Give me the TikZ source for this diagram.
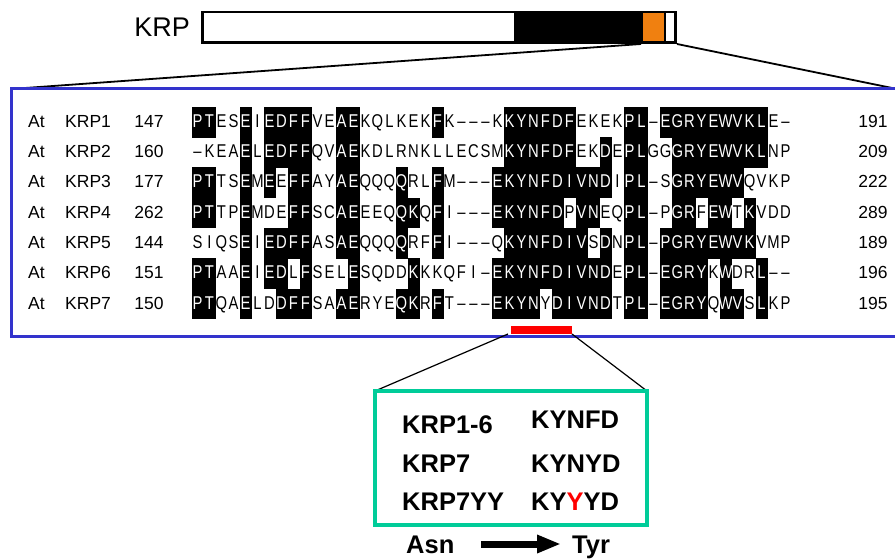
\documentclass[tikz,border=0pt]{standalone}
\usepackage{fontspec}
\setmainfont{Liberation Sans}
\newfontfamily\seqfont[FakeStretch=0.8]{Liberation Sans}
\usetikzlibrary{arrows.meta}
\definecolor{boxblue}{RGB}{51,51,204}
\definecolor{boxgreen}{RGB}{0,204,153}
\definecolor{krporange}{RGB}{240,128,16}
\definecolor{markred}{RGB}{255,0,0}

\tikzset{
  seqtxt/.style={font=\seqfont\fontsize{18.5}{20}\selectfont, inner sep=0pt, anchor=base},
  lbl/.style={font=\fontsize{17.5}{20}\selectfont, inner sep=0pt},
  gtxt/.style={font=\bfseries\fontsize{25.5}{28}\selectfont, inner sep=0pt, anchor=base west},
  thinline/.style={line width=1.8pt, black},
  zoomline/.style={line width=1.2pt, black}
}

\newcount\seqcol
\newcommand\seqrow[2]{\global\seqcol=0 \def\seqrowidx{#1}\seqloop#2\relax}
\def\seqloop#1{\ifx#1\relax\else\global\advance\seqcol by 1 \seqcell{#1}\expandafter\seqloop\fi}
\def\seqglyph#1{\if#1-\textendash\else#1\fi}
\def\seqcell#1{%
  \ifnum`#1>`Z\relax
    \fill[black] ({179.5+12*\the\seqcol},{107+30.25*(\seqrowidx-1)}) rectangle ++(12.4,30.6);
    \node[seqtxt,text=white] (r\seqrowidx-\the\seqcol) at ({185.5+12*\the\seqcol},{127.5+30.25*(\seqrowidx-1)}) {\uppercase{#1}};
  \else
    \node[seqtxt] (r\seqrowidx-\the\seqcol) at ({185.5+12*\the\seqcol},{127.5+30.25*(\seqrowidx-1)}) {\seqglyph{#1}};
  \fi}

\begin{document}
\begin{tikzpicture}[x=1pt,y=-1pt]
\useasboundingbox (0,0) rectangle (895,559);
\clip (0,0) rectangle (895,559);

% KRP bar
\node[font=\fontsize{27}{30}\selectfont, inner sep=0pt, anchor=base east] (krplabel) at (190,37) {KRP};
\coordinate (barNW) at (202.4,12);
\coordinate (barSE) at (675.6,42.5);
\fill[black] (514,12) rectangle (643,42.5);
\fill[krporange] (643,12) rectangle (664,42.5);
\draw[line width=1.5pt] (665,12) -- (665,42.5);
\draw[line width=2.8pt] (barNW) rectangle (barSE);

% zoom lines to alignment
\coordinate (zoomL) at (641,44);
\coordinate (zoomR) at (677,44);
\coordinate (alnL) at (11,89);
\coordinate (alnR) at (897,89);
\draw[thinline] (zoomL) -- (alnL);
\draw[thinline] (zoomR) -- (alnR);

% alignment box
\draw[boxblue, line width=3pt] (11.7,88.5) rectangle (910,336.7);

% row labels
\foreach \r/\nl/\nr in {1/147/191, 2/160/209, 3/177/222, 4/262/289, 5/144/189, 6/151/196, 7/150/195}{
  \node[lbl, anchor=base west] (at\r) at (28,{127.5+30.25*(\r-1)}) {At};
  \node[lbl, anchor=base west] (krp\r) at (65,{127.5+30.25*(\r-1)}) {KRP\r};
  \node[lbl, anchor=base] (ln\r) at (149,{127.5+30.25*(\r-1)}) {\nl};
  \node[lbl, anchor=base] (rn\r) at (873,{127.5+30.25*(\r-1)}) {\nr};
}

% sequences (lowercase = shaded)
\seqrow{1}{ptESeIedffVEaeKQLKEKfK---KkynfdfEKEKpl-egryewvklE-}
\seqrow{2}{-KEAeLedffQVaeKDLRNKLLECSMkynfdfEKdEplGGgryewvklNP}
\seqrow{3}{ptTSeMeEffAYaeQQQqRLfM---ekynfdivndIpl-SgryewvQVKP}
\seqrow{4}{ptTPeMDEffSCaeEEQqkQfI---ekynfdPvnEQpl-PgrFewTkVDD}
\seqrow{5}{SIQSeIedffASaeQQQqRFfI---QkynfdivSdNpl-pgryewvkVMP}
\seqrow{6}{ptAAeIedLfSELeSQDDkKKQFI-ekynfdivndEpl-egryKwDRl--}
\seqrow{7}{ptQAeLDdffSAaeRYEqkRfT---ekynYdivndTpl-egryQwvSlKP}

% red marker
\fill[markred] (511,326) rectangle (572,333.5);
\coordinate (redL) at (508,334);
\coordinate (redR) at (572,334);

% green box
\coordinate (gNW) at (375,391);
\coordinate (gNE) at (647,391);
\coordinate (gSE) at (647,525);
\draw[zoomline] (redL) -- (gNW);
\draw[zoomline] (redR) -- (gNE);
\draw[boxgreen, line width=4pt] (gNW) rectangle (gSE);

\node[gtxt] (k16) at (402,433) {KRP1-6};
\node[gtxt] (s16) at (531,428) {KYNFD};
\node[gtxt] (k7) at (402,472) {KRP7};
\node[gtxt] (s7) at (531,472) {KYNYD};
\node[gtxt] (k7yy) at (402,510) {KRP7YY};
\node[gtxt] (s7yy) at (531,510) {KY\textcolor{markred}{Y}YD};

% Asn -> Tyr
\node[gtxt] (asn) at (406,553) {Asn};
\node[gtxt] (tyr) at (572,553) {Tyr};
\coordinate (arrS) at (481,544);
\coordinate (arrE) at (561,544);
\draw[line width=7pt, -{Triangle[length=24pt,width=17pt]}] (arrS) -- (arrE);
\end{tikzpicture}
\end{document}
